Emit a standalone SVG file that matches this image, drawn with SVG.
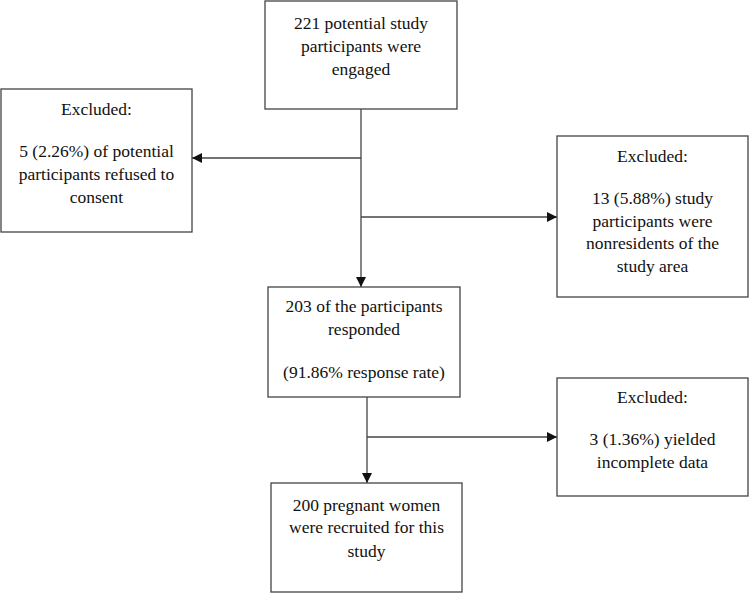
<svg xmlns="http://www.w3.org/2000/svg" width="750" height="594" viewBox="0 0 750 594">
<defs>
<marker id="arr" viewBox="0 0 10 10" refX="10" refY="5" markerWidth="10" markerHeight="10" markerUnits="userSpaceOnUse" orient="auto">
<path d="M0,0 L10,5 L0,10 Z" fill="#111"/>
</marker>
<style>
.box{fill:#fff;stroke:#444;stroke-width:1.3}
.t{font-family:"Liberation Serif","Times New Roman",serif;font-size:17.5px;fill:#111;text-anchor:middle}
.c{fill:none;stroke:#444;stroke-width:1.3}
</style>
</defs>
<rect width="750" height="594" fill="#fff"/>
<g id="connectors">
<line class="c" x1="361" y1="109" x2="361" y2="287" marker-end="url(#arr)"/>
<line class="c" x1="361" y1="158" x2="192" y2="158" marker-end="url(#arr)"/>
<line class="c" x1="361" y1="217" x2="557" y2="217" marker-end="url(#arr)"/>
<line class="c" x1="367" y1="397" x2="367" y2="483" marker-end="url(#arr)"/>
<line class="c" x1="367" y1="437" x2="557" y2="437" marker-end="url(#arr)"/>
</g>
<g id="n1">
<rect class="box" x="265" y="1" width="192" height="108"/>
<text class="t" x="361" y="29">221 potential study</text>
<text class="t" x="361" y="52">participants were</text>
<text class="t" x="361" y="75">engaged</text>
</g>
<g id="n2">
<rect class="box" x="1" y="89" width="191" height="143"/>
<text class="t" x="96.5" y="115">Excluded:</text>
<text class="t" x="96.5" y="157">5 (2.26%) of potential</text>
<text class="t" x="96.5" y="180">participants refused to</text>
<text class="t" x="96.5" y="203">consent</text>
</g>
<g id="n3">
<rect class="box" x="557" y="136" width="191" height="161"/>
<text class="t" x="652.5" y="162">Excluded:</text>
<text class="t" x="652.5" y="204">13 (5.88%) study</text>
<text class="t" x="652.5" y="227">participants were</text>
<text class="t" x="652.5" y="249">nonresidents of the</text>
<text class="t" x="652.5" y="272">study area</text>
</g>
<g id="n4">
<rect class="box" x="268" y="287" width="192" height="110"/>
<text class="t" x="364" y="312">203 of the participants</text>
<text class="t" x="364" y="335">responded</text>
<text class="t" x="364" y="378">(91.86% response rate)</text>
</g>
<g id="n5">
<rect class="box" x="557" y="378" width="191" height="118"/>
<text class="t" x="652.5" y="403">Excluded:</text>
<text class="t" x="652.5" y="445">3 (1.36%) yielded</text>
<text class="t" x="652.5" y="468">incomplete data</text>
</g>
<g id="n6">
<rect class="box" x="271" y="483" width="191" height="109"/>
<text class="t" x="366.5" y="511">200 pregnant women</text>
<text class="t" x="366.5" y="533">were recruited for this</text>
<text class="t" x="366.5" y="557">study</text>
</g>
</svg>
